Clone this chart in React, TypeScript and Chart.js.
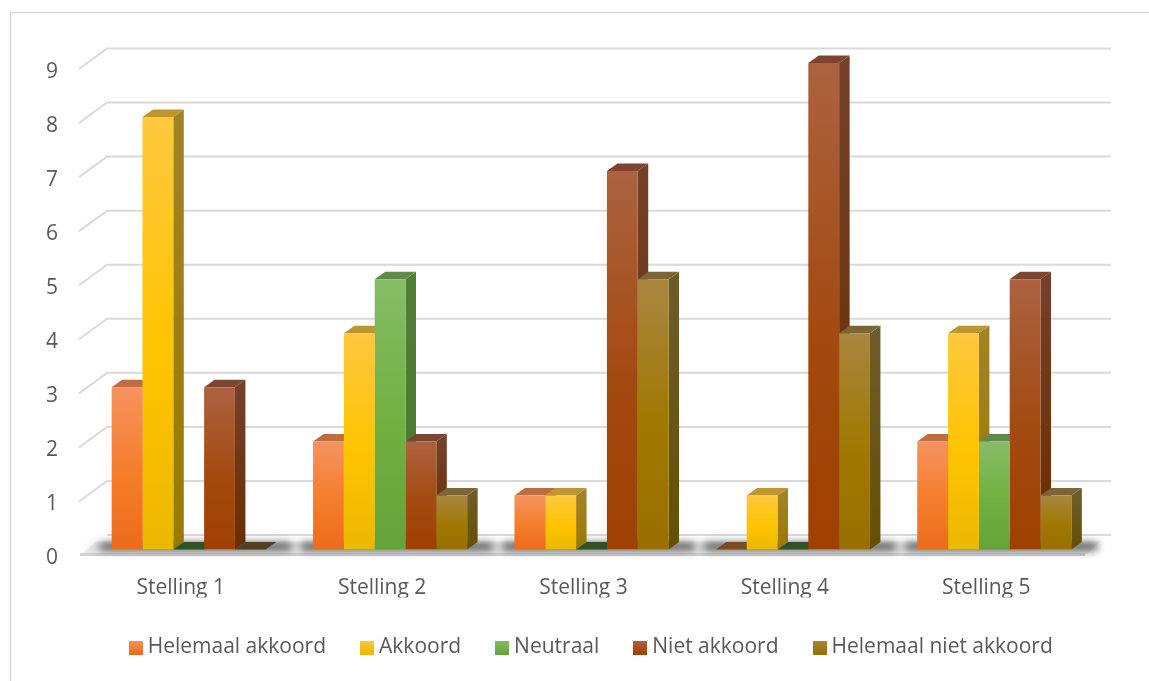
import React, { useEffect, useRef } from "react";
import { Chart, registerables } from "chart.js";

Chart.register(...registerables);

const categories = ["Stelling 1", "Stelling 2", "Stelling 3", "Stelling 4", "Stelling 5"];
const helemaalAkkoord = [3, 2, 1, 0, 2];
const akkoord = [8, 4, 1, 1, 4];
const neutraal = [0, 5, 0, 0, 2];
const nietAkkoord = [3, 2, 7, 9, 5];
const helemaalNietAkkoord = [0, 1, 5, 4, 1];
const seriesNames = ["Helemaal akkoord", "Akkoord", "Neutraal", "Niet akkoord", "Helemaal niet akkoord"];
const seriesValues = [helemaalAkkoord, akkoord, neutraal, nietAkkoord, helemaalNietAkkoord];

const palette = [
  { front: ["#F59360", "#F57D2A", "#EB6C1C"], side: ["#A9683C", "#A05A1C"], top: "#C06C3E", flat: "#7A4A20" },
  { front: ["#FFC83F", "#FFC400", "#EBB800"], side: ["#A38226", "#997A00"], top: "#BF9530", flat: "#6B5500" },
  { front: ["#87BC66", "#70B03F", "#66A33A"], side: ["#4F7F35", "#467A2A"], top: "#5F8B4A", flat: "#2F5226" },
  { front: ["#AC6240", "#A34A10", "#9E4000"], side: ["#734029", "#6B2D00"], top: "#7E4432", flat: "#5A2A10" },
  { front: ["#A98640", "#A07800", "#996F00"], side: ["#6E5B2A", "#655000"], top: "#7E6535", flat: "#4F3F1E" },
];

const DEPTH_X = 10.5;
const DEPTH_Y = 7.5;
const FONT = '"Open Sans", sans-serif';

function swatch(stops: string[]) {
  const c = document.createElement("canvas");
  c.width = 14;
  c.height = 14;
  const g = c.getContext("2d")!;
  const grad = g.createLinearGradient(0, 0, 0, 14);
  grad.addColorStop(0, stops[0]);
  grad.addColorStop(1, stops[2]);
  g.fillStyle = grad;
  g.fillRect(0, 0, 14, 14);
  return c;
}

const scene3d = {
  id: "scene3d",
  afterLayout(chart: any) {
    chart.legend.left += 2;
    chart.legend.right += 2;
  },
  beforeDraw(chart: any) {
    const { ctx, width, height } = chart;
    ctx.save();
    ctx.fillStyle = "#FFFFFF";
    ctx.fillRect(0, 0, width, height);
    ctx.strokeStyle = "#D9D9D9";
    ctx.lineWidth = 1.5;
    ctx.beginPath();
    ctx.moveTo(10.5, height);
    ctx.lineTo(10.5, 12.5);
    ctx.lineTo(width, 12.5);
    ctx.stroke();
    ctx.restore();
  },
  beforeDatasetsDraw(chart: any) {
    const { ctx } = chart;
    const yScale = chart.scales.y;
    const left = chart.chartArea.left;
    const right = chart.chartArea.right;
    const zero = yScale.getPixelForValue(0);
    ctx.save();

    // walls: grid lines running back from the side wall and along the back wall
    ctx.strokeStyle = "#DADADA";
    ctx.lineWidth = 2;
    for (let v = 0; v <= 9; v++) {
      const p = yScale.getPixelForValue(v);
      const backY = p - 14.5;
      ctx.beginPath();
      if (v === 0) {
        ctx.moveTo(left + 19, backY);
      } else {
        ctx.moveTo(left - 9, p + 6);
        ctx.lineTo(left + 19, backY);
      }
      ctx.lineTo(right + 16, backY);
      ctx.stroke();
    }

    // floor
    ctx.fillStyle = "#EFEFEF";
    ctx.beginPath();
    ctx.moveTo(left - 8, zero + 6);
    ctx.lineTo(left + 8, zero - 8);
    ctx.lineTo(right + 6, zero - 8);
    ctx.lineTo(right - 10, zero + 6);
    ctx.closePath();
    ctx.fill();
    ctx.fillStyle = "#D4D4D4";
    ctx.fillRect(left - 8, zero + 3.5, right - left - 2, 3);

    // soft shadow of the columns on the floor
    ctx.save();
    ctx.filter = "blur(4px)";
    ctx.fillStyle = "rgba(20,20,20,0.9)";
    chart.getDatasetMeta(0).data.forEach((_: any, i: number) => {
      const first = chart.getDatasetMeta(0).data[i];
      const last = chart.getDatasetMeta(seriesValues.length - 1).data[i];
      const x0 = first.x - first.width / 2 - 12;
      const x1 = last.x + last.width / 2 + 26;
      ctx.fillRect(x0, zero - 6, x1 - x0, 6);
    });
    ctx.fillStyle = "rgba(80,80,80,0.25)";
    ctx.fillRect(left - 2, zero - 3, right - left, 3);
    ctx.restore();

    // side and top faces, left to right
    categories.forEach((_, i) => {
      seriesValues.forEach((values, s) => {
        const bar = chart.getDatasetMeta(s).data[i];
        const x1 = bar.x + bar.width / 2;
        const x0 = bar.x - bar.width / 2;
        const top = bar.y;
        const base = bar.base;
        const colors = palette[s];
        if (base - top > 0.5) {
          const g = ctx.createLinearGradient(0, top, 0, base);
          g.addColorStop(0, colors.side[0]);
          g.addColorStop(1, colors.side[1]);
          ctx.fillStyle = g;
          ctx.beginPath();
          ctx.moveTo(x1, top);
          ctx.lineTo(x1 + DEPTH_X, top - DEPTH_Y);
          ctx.lineTo(x1 + DEPTH_X, base - DEPTH_Y);
          ctx.lineTo(x1, base);
          ctx.closePath();
          ctx.fill();
        }
        ctx.fillStyle = values[i] === 0 ? colors.flat : colors.top;
        ctx.beginPath();
        ctx.moveTo(x0, top);
        ctx.lineTo(x0 + DEPTH_X, top - DEPTH_Y);
        ctx.lineTo(x1 + DEPTH_X, top - DEPTH_Y);
        ctx.lineTo(x1, top);
        ctx.closePath();
        ctx.fill();
      });
    });
    ctx.restore();
  },
};

export default function App() {
  const ref = useRef<HTMLCanvasElement>(null);
  useEffect(() => {
    const chart = new Chart(ref.current!, {
      type: "bar",
      data: {
        labels: categories,
        datasets: seriesNames.map((name, s) => ({
          label: name,
          data: seriesValues[s],
          backgroundColor: (c: any) => {
            const colors = palette[s].front;
            const area = c.chart.chartArea;
            if (!area || c.type !== "data") return colors[1];
            const yS = c.chart.scales.y;
            const top = yS.getPixelForValue(c.parsed.y);
            const base = yS.getPixelForValue(0);
            if (base - top < 1) return colors[1];
            const g = c.chart.ctx.createLinearGradient(0, top, 0, base);
            g.addColorStop(0, colors[0]);
            g.addColorStop(0.55, colors[1]);
            g.addColorStop(1, colors[2]);
            return g;
          },
          borderWidth: 0,
          barPercentage: 1,
          categoryPercentage: 0.765,
        })),
      },
      options: {
        animation: false,
        responsive: false,
        layout: { padding: { left: 0, right: 54, top: 63, bottom: 13 } },
        scales: {
          x: {
            grid: { display: false, drawTicks: false },
            border: { display: false },
            ticks: { color: "#595959", font: { family: FONT, size: 21 }, padding: 26, maxRotation: 0, labelOffset: -8 },
            afterFit: (s: any) => { s.height = 48; },
          },
          y: {
            min: 0,
            max: 9,
            grid: { display: false, drawTicks: false },
            border: { display: false },
            ticks: { stepSize: 1, color: "#595959", font: { family: FONT, size: 21 }, padding: 30, labelOffset: 9 },
            afterFit: (s: any) => { s.width = 88; },
          },
        },
        plugins: {
          tooltip: { enabled: false },
          legend: {
            position: "bottom",
            fullSize: false,
            labels: {
              color: "#595959",
              font: { family: FONT, size: 21 },
              padding: 39.5,
              usePointStyle: true,
              pointStyleWidth: 3,
              generateLabels: () =>
                seriesNames.map((name, s) => ({
                  text: name,
                  pointStyle: swatch(palette[s].front),
                  fontColor: "#595959",
                  datasetIndex: s,
                })),
            },
          },
        },
      },
      plugins: [scene3d],
    } as any);
    return () => chart.destroy();
  }, []);
  return (
    <div style={{ position: "fixed", left: 0, top: 0, width: 1149, height: 681 }}>
      <canvas ref={ref} width={1149} height={681} style={{ display: "block" }} />
    </div>
  );
}
